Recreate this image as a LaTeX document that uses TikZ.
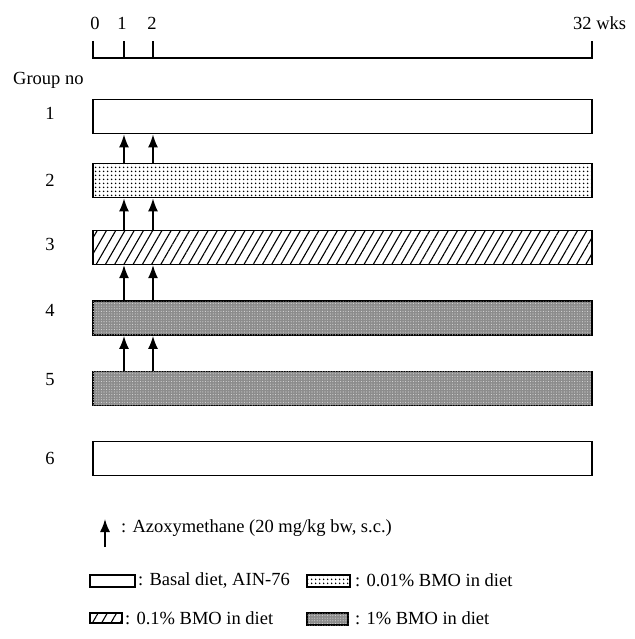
\documentclass[tikz,border=0pt]{standalone}
\usepackage{fontspec}
\setmainfont{Liberation Serif}
\usetikzlibrary{patterns.meta,arrows.meta}
\begin{document}
\begin{tikzpicture}[x=1pt,y=-1pt,
  lbl/.style={font=\fontsize{18.5}{20}\selectfont, inner sep=0pt},
  bar/.style={draw, line width=1.8pt, minimum width=499pt, minimum height=34pt, inner sep=0pt},
  plain/.style={fill=white},
  dotted fill/.style={pattern={Dots[distance=4pt,radius=1pt]}},
  hatch fill/.style={pattern={Lines[angle=60,distance=8pt,line width=1.1pt]}},
  grey fill/.style={fill=black!45, postaction={pattern={Dots[distance=2.6pt,radius=0.55pt]}, pattern color=white!85!black}},
  legbox/.style={draw, line width=1.3pt, inner sep=0pt},
  arr/.style={line width=1.6pt, -{Latex[length=13pt,width=10pt]}},
  axis/.style={line width=1.4pt}
]
\useasboundingbox (0,0) rectangle (634,639);

% time axis
\coordinate (t0) at (93,58);
\coordinate (t1) at (124,58);
\coordinate (t2) at (153,58);
\coordinate (t32) at (592,58);
\draw[axis] (93,41) -- (t0) -- (t32) -- (592,41);
\draw[axis] (t1) -- (124,41);
\draw[axis] (t2) -- (153,41);
\node[lbl] (l0) at (95,23) {0};
\node[lbl] (l1) at (122,23) {1};
\node[lbl] (l2) at (152,23) {2};
\node[lbl, anchor=west] (l32) at (573,23) {32 wks};
\node[lbl, anchor=west] (grp) at (13,80) {Group no};

% bars
\node[bar, plain] (b1) at (342.5,116.5) {};
\node[bar, dotted fill] (b2) at (342.5,180.5) {};
\node[bar, hatch fill] (b3) at (342.5,247.5) {};
\node[bar, grey fill] (b4) at (342.5,318) {};
\node[bar, grey fill] (b5) at (342.5,388.5) {};
\node[bar, plain] (b6) at (342.5,458.5) {};

% group numbers
\node[lbl] (g1) at (50,113) {1};
\node[lbl] (g2) at (50,180) {2};
\node[lbl] (g3) at (50,244) {3};
\node[lbl] (g4) at (50,310) {4};
\node[lbl] (g5) at (50,380) {5};
\node[lbl] (g6) at (50,458) {6};

% azoxymethane arrows
\foreach \lo/\hi in {b2/b1,b3/b2,b4/b3,b5/b4}{
  \draw[arr] (\lo.north -| t1) -- (\hi.south -| t1);
  \draw[arr] (\lo.north -| t2) -- (\hi.south -| t2);
}

% legend
\coordinate (la0) at (105,547);
\coordinate (la1) at (105,519);
\draw[arr] (la0) -- (la1);
\node[lbl, anchor=west] (lt0) at (121,528) {: Azoxymethane (20 mg/kg bw, s.c.)};

\node[legbox, plain, minimum width=45pt, minimum height=12pt] (k1) at (112.5,581) {};
\node[lbl, anchor=west] (lt1) at (138,580) {: Basal diet, AIN-76};
\node[legbox, dotted fill, minimum width=43pt, minimum height=12pt] (k2) at (328.5,581) {};
\node[lbl, anchor=west] (lt2) at (355,580) {: 0.01\% BMO in diet};

\node[legbox, hatch fill, minimum width=32pt, minimum height=10pt] (k3) at (106,618) {};
\node[lbl, anchor=west] (lt3) at (125,618) {: 0.1\% BMO in diet};
\node[legbox, grey fill, minimum width=41pt, minimum height=12pt] (k4) at (327.5,619) {};
\node[lbl, anchor=west] (lt4) at (355,618) {: 1\% BMO in diet};
\end{tikzpicture}
\end{document}
